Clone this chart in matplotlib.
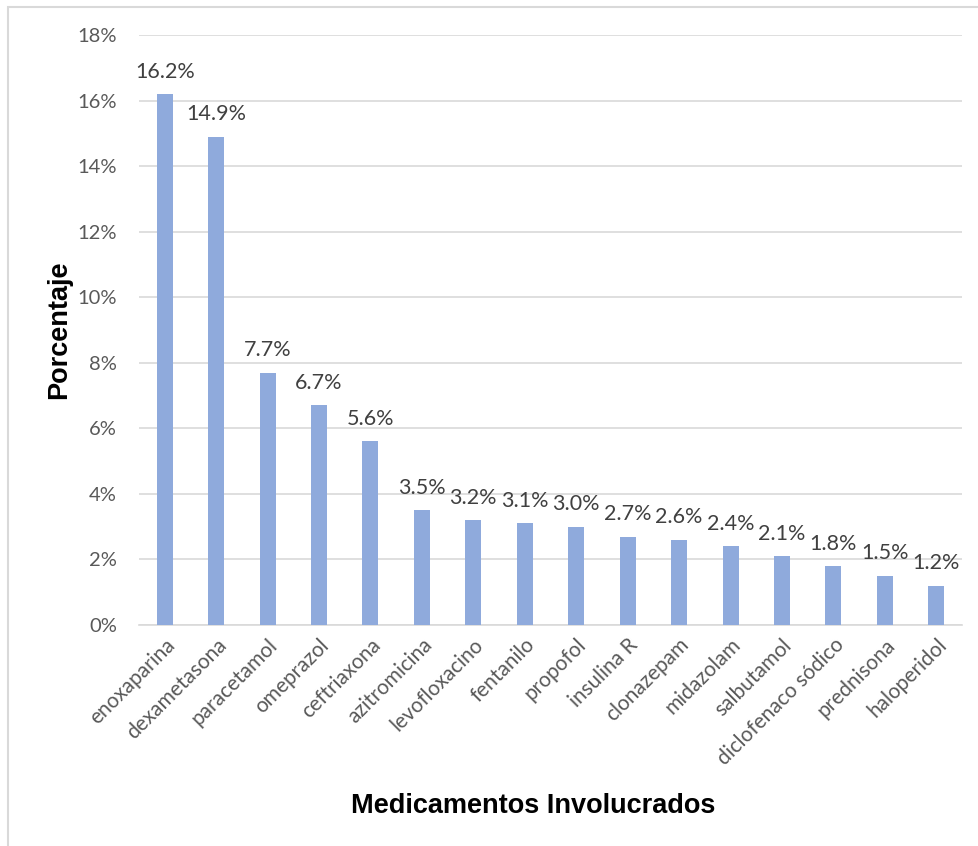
import numpy as np
import matplotlib
matplotlib.use("Agg")
import matplotlib.pyplot as plt
from matplotlib.ticker import FuncFormatter
from matplotlib.patches import Rectangle

medicamentos = ["enoxaparina", "dexametasona", "paracetamol", "omeprazol", "ceftriaxona",
                "azitromicina", "levofloxacino", "fentanilo", "propofol", "insulina R",
                "clonazepam", "midazolam", "salbutamol", "diclofenaco sódico",
                "prednisona", "haloperidol"]
porcentaje = [16.2, 14.9, 7.7, 6.7, 5.6, 3.5, 3.2, 3.1, 3.0, 2.7, 2.6, 2.4, 2.1, 1.8, 1.5, 1.2]
y_ticks = [0, 2, 4, 6, 8, 10, 12, 14, 16, 18]

fig = plt.figure(figsize=(9.79, 8.46), dpi=100)
ax = fig.add_axes([139/979, 1 - 625/846, (962-139)/979, (625-35)/846])

x = np.arange(len(medicamentos))
ax.bar(x, porcentaje, width=0.31, color="#8faadc", zorder=3)
for xi, v in zip(x, porcentaje):
    ax.annotate(f"{v:.1f}%", (xi, v), xytext=(0, 9), textcoords="offset points",
                ha="center", va="bottom", fontsize=15.5, color="#404040", family="Lato")

ax.set_xlim(-0.5, len(medicamentos) - 0.5)
ax.set_ylim(0, 18)
ax.set_yticks(y_ticks)
ax.yaxis.set_major_formatter(FuncFormatter(lambda v, p: f"{v:.0f}%"))
ax.grid(axis="y", color="#d9d9d9", linewidth=1.2, zorder=0)
for s in ["top", "right", "left"]:
    ax.spines[s].set_visible(False)
ax.spines["bottom"].set_color("#d9d9d9")
ax.spines["bottom"].set_linewidth(1.2)
ax.tick_params(length=0, labelsize=14.5, colors="#595959")
ax.tick_params(axis="y", pad=16)
for t in ax.get_yticklabels():
    t.set_family("Lato")
ax.set_xticks(x)
ax.set_xticklabels(medicamentos, rotation=45, ha="right", rotation_mode="anchor",
                   family="Lato", fontsize=15, color="#595959")
ax.tick_params(axis="x", pad=7)

ax.set_ylabel("Porcentaje", fontsize=19.5, fontweight="bold", family="Liberation Sans")
ax.yaxis.set_label_coords(-0.081, 0.5)
fig.text(533/979, 1 - 806/846, "Medicamentos Involucrados", ha="center", va="center",
         fontsize=19.5, fontweight="bold", family="Liberation Sans")

fig.patches.append(Rectangle((8/979, -0.01), 1.0, 1 - 7/846 + 0.01, transform=fig.transFigure,
                             fill=False, edgecolor="#d9d9d9", linewidth=1.5))

fig.savefig("out.png", dpi=100)
